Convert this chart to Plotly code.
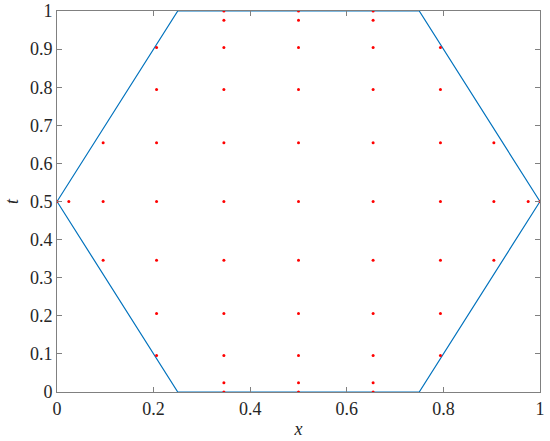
import plotly.graph_objects as go

# Hexagon boundary vertices
hex_x = [0.0, 0.25, 0.75, 1.0, 0.75, 0.25, 0.0]
hex_t = [0.5, 1.0, 1.0, 0.5, 0.0, 0.0, 0.5]

# Node rows (t level -> x positions)
t_levels = [0.0, 0.0245, 0.0955, 0.2061, 0.3455, 0.5, 0.6545, 0.7939, 0.9045, 0.9755, 1.0]
x_rows = [
    [0.3455, 0.5, 0.6545],
    [0.3455, 0.5, 0.6545],
    [0.2061, 0.3455, 0.5, 0.6545, 0.7939],
    [0.2061, 0.3455, 0.5, 0.6545, 0.7939],
    [0.0955, 0.2061, 0.3455, 0.5, 0.6545, 0.7939, 0.9045],
    [0.0, 0.0245, 0.0955, 0.2061, 0.3455, 0.5, 0.6545, 0.7939, 0.9045, 0.9755, 1.0],
    [0.0955, 0.2061, 0.3455, 0.5, 0.6545, 0.7939, 0.9045],
    [0.2061, 0.3455, 0.5, 0.6545, 0.7939],
    [0.2061, 0.3455, 0.5, 0.6545, 0.7939],
    [0.3455, 0.5, 0.6545],
    [0.3455, 0.5, 0.6545],
]

x_ticks = [0, 0.2, 0.4, 0.6, 0.8, 1]
x_tick_labels = ["0", "0.2", "0.4", "0.6", "0.8", "1"]
t_ticks = [0, 0.1, 0.2, 0.3, 0.4, 0.5, 0.6, 0.7, 0.8, 0.9, 1]
t_tick_labels = ["0", "0.1", "0.2", "0.3", "0.4", "0.5", "0.6", "0.7", "0.8", "0.9", "1"]

pts_x, pts_t = [], []
for tv, row in zip(t_levels, x_rows):
    for xv in row:
        pts_x.append(xv)
        pts_t.append(tv)

fig = go.Figure()
fig.add_trace(go.Scatter(x=hex_x, y=hex_t, mode="lines",
                         line=dict(color="#0072BD", width=1.2), hoverinfo="skip"))
fig.add_trace(go.Scatter(x=pts_x, y=pts_t, mode="markers",
                         marker=dict(color="#FF0000", size=3, line=dict(width=0))))

font = dict(family="Liberation Serif", size=18, color="#262626")
axis_common = dict(
    showgrid=False, zeroline=False, showline=True, linecolor="#808080", linewidth=1,
    mirror="ticks", ticks="inside", ticklen=5, tickcolor="#808080", tickwidth=1,
    automargin=False, tickfont=font,
)
fig.update_xaxes(range=[0, 1], tickvals=x_ticks, ticktext=x_tick_labels,
                 title=dict(text="<i>x</i>", font=font, standoff=4), **axis_common)
fig.update_yaxes(range=[0, 1], tickvals=t_ticks, ticktext=t_tick_labels,
                 title=dict(text="<i>t</i>", font=font, standoff=6), **axis_common)
fig.update_layout(
    width=550, height=441, showlegend=False, font=font,
    margin=dict(l=57, r=10, t=11, b=49),
    plot_bgcolor="white", paper_bgcolor="white",
)
post = (
    "document.body.style.margin='0';"
    "document.querySelectorAll('text').forEach(function(t){"
    "t.style.setProperty('font-family','\"Liberation Serif\", serif','important');});"
)
fig.write_html("out.html", config={"displayModeBar": False}, post_script=post)
